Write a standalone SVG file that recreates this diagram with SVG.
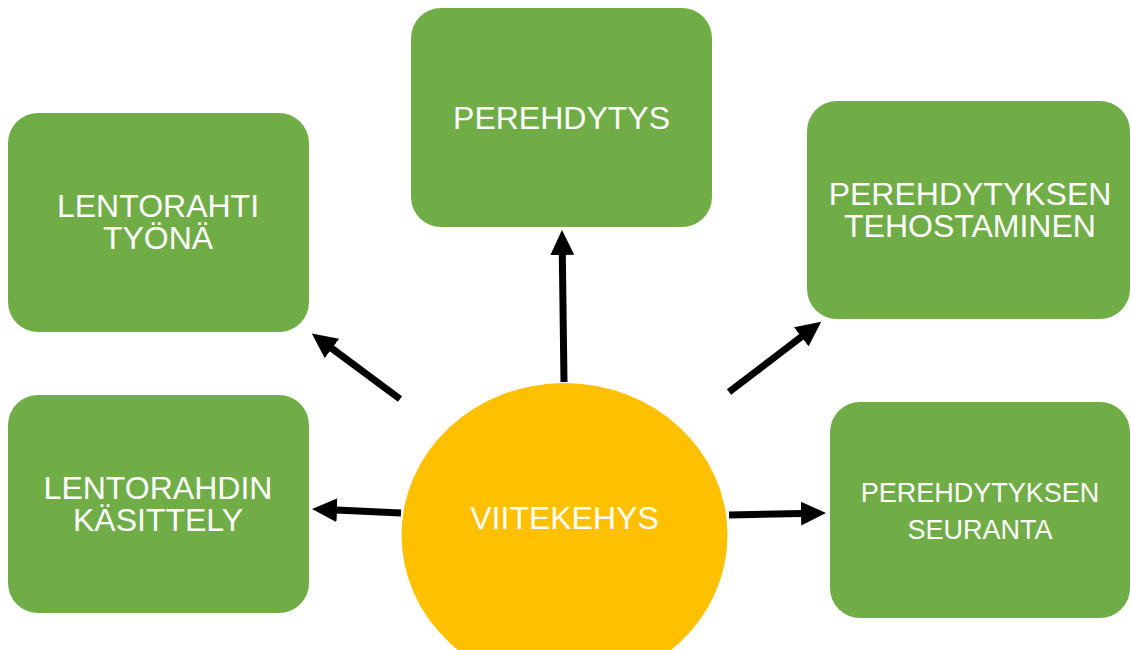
<svg xmlns="http://www.w3.org/2000/svg" width="1131" height="650" viewBox="0 0 1131 650">
<style>
.box{fill:#70AD47}
.t{fill:#fff;font-family:"Liberation Sans",Arial,sans-serif;font-size:32px;text-anchor:middle}
.s{font-size:27px}
.c{stroke:#000;stroke-width:7;fill:none;marker-end:url(#ah)}
</style>
<defs>
<marker id="ah" viewBox="0 0 25 24" markerUnits="userSpaceOnUse" markerWidth="25" markerHeight="24" refX="1" refY="12" orient="auto">
<path d="M0,0 L25,12 L0,24 z" fill="#000"/>
</marker>
</defs>
<rect width="1131" height="650" fill="#fff"/>
<g id="n1"><rect class="box" x="8" y="113" width="301" height="219" rx="30"/><text class="t" x="158" y="217">LENTORAHTI</text><text class="t" x="158" y="249">TYÖNÄ</text></g>
<g id="n2"><rect class="box" x="411" y="8" width="301" height="219" rx="30"/><text class="t" x="561.5" y="129">PEREHDYTYS</text></g>
<g id="n3"><rect class="box" x="807" y="101" width="323" height="218" rx="30"/><text class="t" x="970" y="205">PEREHDYTYKSEN</text><text class="t" x="970" y="237">TEHOSTAMINEN</text></g>
<g id="n4"><rect class="box" x="8" y="395" width="301" height="218" rx="30"/><text class="t" x="158" y="499">LENTORAHDIN</text><text class="t" x="158" y="531">KÄSITTELY</text></g>
<g id="n5"><rect class="box" x="830" y="402" width="300" height="216" rx="30"/><text class="t s" x="980" y="502">PEREHDYTYKSEN</text><text class="t s" x="980" y="539">SEURANTA</text></g>
<g id="center"><ellipse cx="564.5" cy="535" rx="163" ry="152" fill="#FFC000"/><text class="t" x="564.5" y="529">VIITEKEHYS</text></g>
<g id="connectors">
<line class="c" x1="564" y1="382" x2="562.3" y2="254"/>
<line class="c" x1="400" y1="399" x2="331.1" y2="347.9"/>
<line class="c" x1="401" y1="513" x2="336" y2="510.1"/>
<line class="c" x1="729" y1="392" x2="802.1" y2="336.2"/>
<line class="c" x1="729" y1="515" x2="802" y2="513.5"/>
</g>
</svg>
